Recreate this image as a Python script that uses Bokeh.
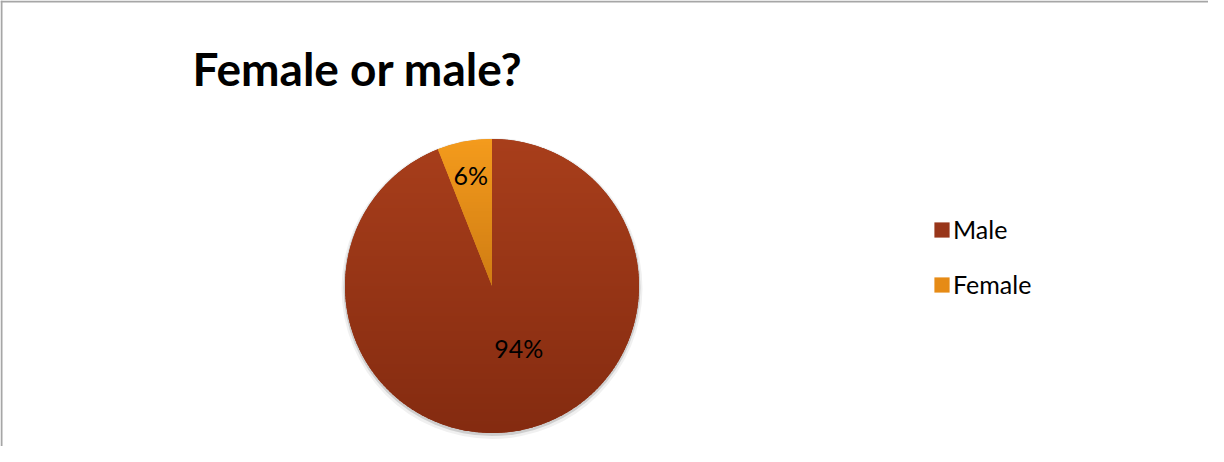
import math
from bokeh.plotting import figure
from bokeh.models import Range1d, Span, Label, Legend, LegendItem, ColumnDataSource
from bokeh.core.properties import value
from bokeh.embed import file_html
from bokeh.resources import INLINE

# ---- data ----
title_text = "Female or male?"
categories = ["Male", "Female"]
shares = [94, 6]

# ---- style ----
colors = ["#98361a", "#e68b16"]          # flat slice colour (legend swatch)
top_colors = ["#a83e1b", "#f49b1c"]      # vertical gradient, top of slice
bottom_colors = ["#842b10", "#cf7c13"]   # vertical gradient, bottom of slice

W, H = 1208, 446          # fits the 1224x462 window with the 8px page margin
R = 147.0                 # pie radius in px
CX, CY = 491.5, 285.5     # pie centre, px from the figure's top-left
FONT = "Lato"

total = float(sum(shares))
starts, ends, mids, labels = [], [], [], []
cum = 0.0
for s in shares:
    a0 = math.pi / 2 - 2 * math.pi * cum / total
    cum += s
    a1 = math.pi / 2 - 2 * math.pi * cum / total
    starts.append(a1)
    ends.append(a0)
    mids.append((a0 + a1) / 2)
    labels.append("%d%%" % round(100 * s / total))

# label placement inside each slice (radius fraction + small pixel nudge)
label_r = [0.5, 0.77]
label_dx = [13, 0]
label_dy = [-10, 0]
lx = [label_r[i] * math.cos(mids[i]) for i in range(len(shares))]
ly = [label_r[i] * math.sin(mids[i]) for i in range(len(shares))]

src = ColumnDataSource(dict(cat=categories, start=starts, end=ends, color=colors,
                            lx=lx, ly=ly, label=labels, dx=label_dx, dy=label_dy))


# ---- vertical gradient fill of each slice, built from the slice geometry ----
def hex_rgb(h):
    h = h.lstrip("#")
    return tuple(int(h[i:i + 2], 16) for i in (0, 2, 4))


def mix(c0, c1, t):
    a, b = hex_rgb(c0), hex_rgb(c1)
    return "#%02x%02x%02x" % tuple(int(round(a[i] + (b[i] - a[i]) * t)) for i in range(3))


def clip_half(pts, keep, yc):
    out = []
    for i in range(len(pts)):
        cur, prev = pts[i], pts[i - 1]
        cin, pin = keep(cur), keep(prev)
        if cin != pin:
            t = (yc - prev[1]) / (cur[1] - prev[1])
            out.append((prev[0] + t * (cur[0] - prev[0]), yc))
        if cin:
            out.append(cur)
    return out


def clip_band(poly, y_lo, y_hi):
    pts = clip_half(poly, lambda q: q[1] >= y_lo, y_lo)
    if pts:
        pts = clip_half(pts, lambda q: q[1] <= y_hi, y_hi)
    return pts


band_xs, band_ys, band_cols = [], [], []
band_h = 3.0 / R
eps = 0.8 / R
for i in range(len(shares)):
    n = max(6, int(720 * (ends[i] - starts[i]) / (2 * math.pi)))
    arc = [(math.cos(starts[i] + (ends[i] - starts[i]) * k / n),
            math.sin(starts[i] + (ends[i] - starts[i]) * k / n)) for k in range(n + 1)]
    poly = [(0.0, 0.0)] + arc
    ymax = max(q[1] for q in poly)
    ymin = min(q[1] for q in poly)
    y_hi = ymax
    while y_hi > ymin:
        y_lo = y_hi - band_h
        piece = clip_band(poly, y_lo - eps, y_hi)
        if len(piece) >= 3:
            t = min(1.0, max(0.0, (ymax - (y_hi - band_h / 2)) / (ymax - ymin)))
            band_xs.append([q[0] for q in piece])
            band_ys.append([q[1] for q in piece])
            band_cols.append(mix(top_colors[i], bottom_colors[i], t))
        y_hi = y_lo

p = figure(width=W, height=H, output_backend="svg", toolbar_location=None,
           x_range=Range1d(-CX / R, (W - CX) / R),
           y_range=Range1d(-(H - CY) / R, CY / R),
           x_axis_type=None, y_axis_type=None, min_border=0,
           outline_line_color=None, background_fill_color="white",
           border_fill_color="white")
p.grid.visible = False

# soft drop shadow behind the pie
p.circle(x=0, y=-2.5 / R, radius=1 + 3.5 / R, fill_color="black", fill_alpha=0.06,
         line_color=None)
p.circle(x=0, y=-1.5 / R, radius=1 + 1.5 / R, fill_color="black", fill_alpha=0.14,
         line_color=None)

wedges = p.wedge(x=0, y=0, radius=1, start_angle="start", end_angle="end",
                 fill_color="color", line_color=None, source=src)

p.patches(xs=band_xs, ys=band_ys, fill_color=band_cols, line_color=None)

p.text(x="lx", y="ly", text="label", source=src, x_offset="dx", y_offset="dy",
       text_align="center", text_baseline="middle", text_font=value(FONT),
       text_font_size="25px", text_color="black")

# chart-area border (only top and left edges are inside the window)
p.add_layout(Span(location=-CX / R + 1.0 / R, dimension="height",
                  line_color="#a6a6a6", line_width=2))
p.add_layout(Span(location=CY / R - 1.0 / R, dimension="width",
                  line_color="#a6a6a6", line_width=2))

p.add_layout(Label(x=192, y=H - 68, x_units="screen", y_units="screen",
                   text=title_text, text_font=FONT, text_font_style="bold",
                   text_font_size="46px", text_color="black",
                   text_baseline="alphabetic"))

legend = Legend(items=[LegendItem(label=categories[i], renderers=[wedges], index=i)
                       for i in range(len(categories))],
                location=(932, H - 299), orientation="vertical",
                border_line_color=None, background_fill_alpha=0,
                padding=0, margin=0, spacing=25,
                glyph_width=19, glyph_height=19, label_height=19,
                label_standoff=2, label_text_font=FONT,
                label_text_font_size="25px", label_text_color="black")
p.add_layout(legend)

open("out.html", "w").write(file_html(p, INLINE))
